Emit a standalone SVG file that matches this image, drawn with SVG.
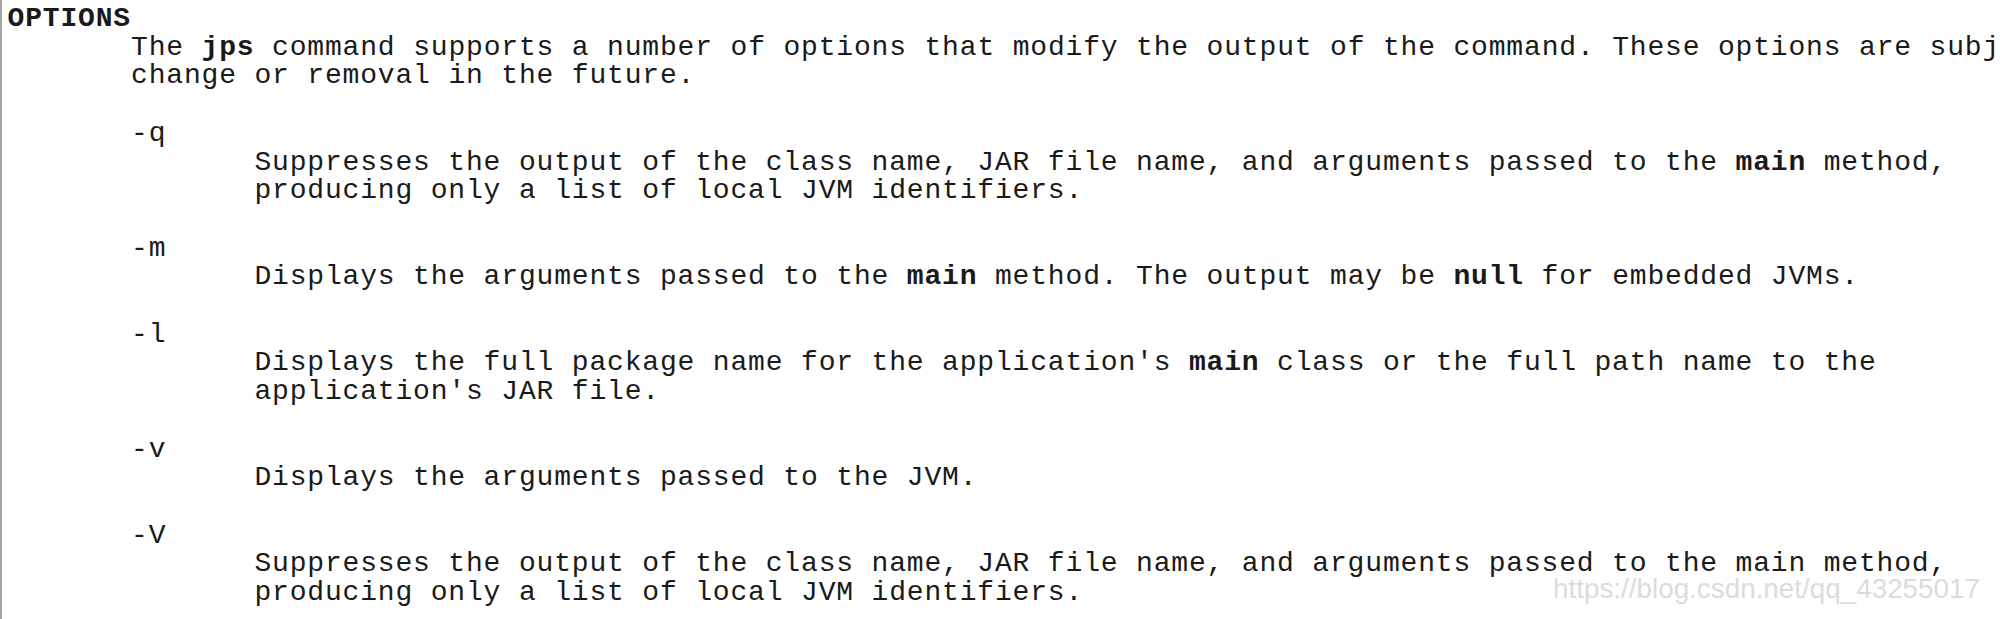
<svg xmlns="http://www.w3.org/2000/svg" width="2000" height="619" viewBox="0 0 2000 619">
<style>
.t{font-family:"Liberation Mono","DejaVu Sans Mono",monospace;font-size:28px;letter-spacing:0.83px;fill:#1a1a1a;}
.b{font-weight:bold;}
.wm{font-family:"Liberation Sans",Arial,sans-serif;font-size:27px;fill:#dcdcdc;}
</style>
<rect x="0" y="0" width="2000" height="619" fill="#ffffff"/>
<line x1="1" y1="0" x2="1" y2="619" stroke="#a6a6a6" stroke-width="2"/>
<g id="header">
<text class="t b" x="7.5" y="26">OPTIONS</text>
<text class="t" x="131" y="54.7">The <tspan class="b">jps</tspan> command supports a number of options that modify the output of the command. These options are subj</text>
<text class="t" x="131" y="83.4">change or removal in the future.</text>
</g>
<g id="opt-q">
<text class="t" x="131" y="140.8">-q</text>
<text class="t" x="254.4" y="169.5">Suppresses the output of the class name, JAR file name, and arguments passed to the <tspan class="b">main</tspan> method,</text>
<text class="t" x="254.4" y="198.2">producing only a list of local JVM identifiers.</text>
</g>
<g id="opt-m">
<text class="t" x="131" y="255.6">-m</text>
<text class="t" x="254.4" y="284.3">Displays the arguments passed to the <tspan class="b">main</tspan> method. The output may be <tspan class="b">null</tspan> for embedded JVMs.</text>
</g>
<g id="opt-l">
<text class="t" x="131" y="341.7">-l</text>
<text class="t" x="254.4" y="370.4">Displays the full package name for the application's <tspan class="b">main</tspan> class or the full path name to the</text>
<text class="t" x="254.4" y="399.1">application's JAR file.</text>
</g>
<g id="opt-v">
<text class="t" x="131" y="456.5">-v</text>
<text class="t" x="254.4" y="485.2">Displays the arguments passed to the JVM.</text>
</g>
<g id="opt-V">
<text class="t" x="131" y="542.6">-V</text>
<text class="t" x="254.4" y="571.3">Suppresses the output of the class name, JAR file name, and arguments passed to the main method,</text>
<text class="t" x="254.4" y="600">producing only a list of local JVM identifiers.</text>
</g>
<text class="wm" x="1553" y="598" textLength="427" lengthAdjust="spacingAndGlyphs">https://blog.csdn.net/qq_43255017</text>
</svg>
